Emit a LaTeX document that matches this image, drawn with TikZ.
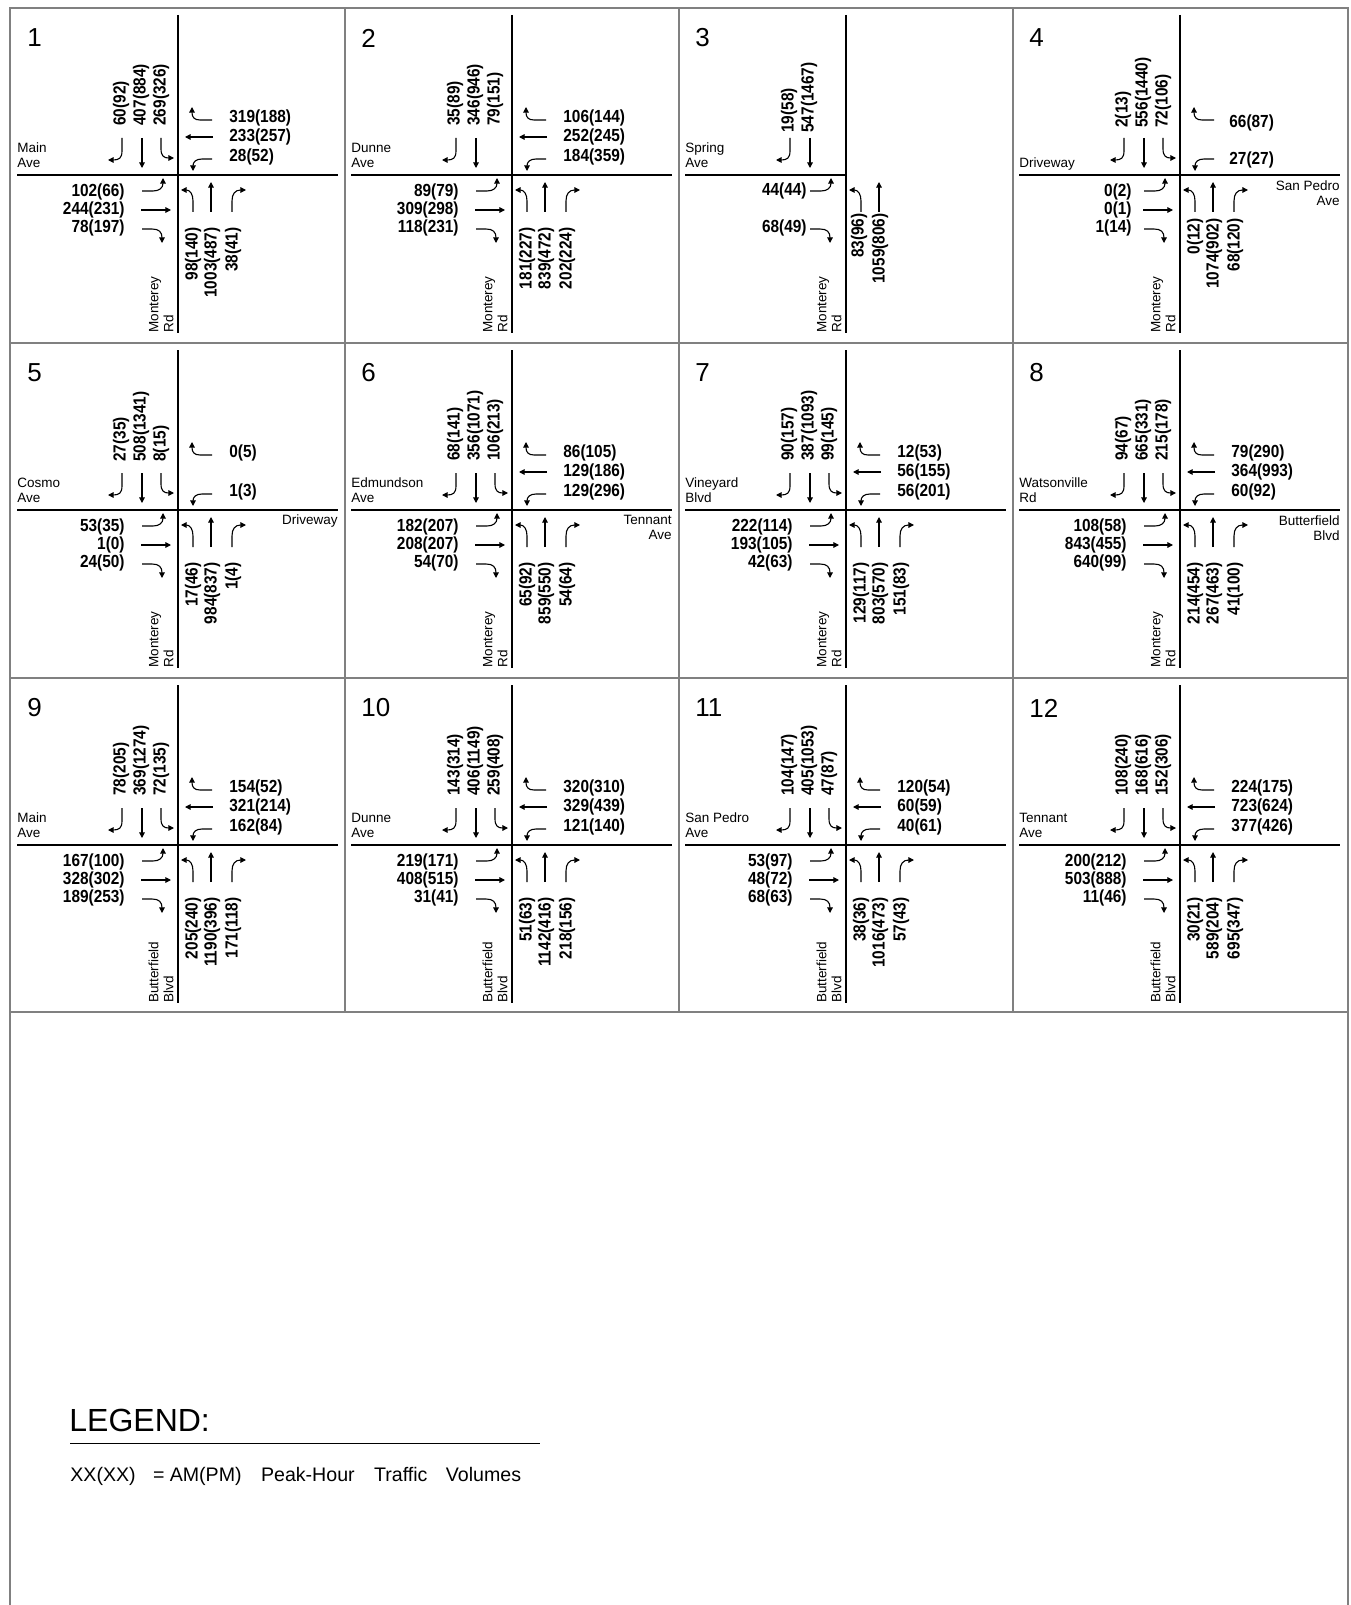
\documentclass[tikz,border=0pt]{standalone}
\usepackage{fontspec}
\setmainfont{Liberation Sans}
\newfontfamily\volfont[FakeStretch=0.88]{Liberation Sans}
\usetikzlibrary{arrows.meta}

% turning movements round the centre of the current intersection
\newcommand{\sbR}{\draw[move] (-56,-37) -- (-56,-24) .. controls (-56,-17) and (-59,-15) .. (-70,-15);}
\newcommand{\sbT}{\draw[move] (-36,-37) -- (-36,-7);}
\newcommand{\sbL}{\draw[move] (-17,-37) -- (-17,-26) .. controls (-17,-19) and (-14,-17) .. (-4,-17);}
\newcommand{\wbR}{\draw[move] (34,-55) -- (22,-55) .. controls (16,-55) and (14,-58) .. (14,-68);}
\newcommand{\wbT}{\draw[move] (35,-38) -- (7,-38);}
\newcommand{\wbL}{\draw[move] (34,-16) -- (24,-16) .. controls (18,-16) and (15,-13) .. (15,-4);}
\newcommand{\ebL}{\draw[move] (-36,16) -- (-25,16) .. controls (-19,16) and (-15,13) .. (-15,3);}
\newcommand{\ebT}{\draw[move] (-37,35) -- (-7,35);}
\newcommand{\ebR}{\draw[move] (-36,54) -- (-26,54) .. controls (-19,54) and (-16,57) .. (-16,68);}
\newcommand{\nbL}{\draw[move] (15,37) -- (15,26) .. controls (15,19) and (12,15) .. (3,15);}
\newcommand{\nbT}{\draw[move] (33,37) -- (33,7);}
\newcommand{\nbR}{\draw[move] (54,37) -- (54,26) .. controls (54,19) and (57,15) .. (68,15);}

% roads, number and street names
\newcommand{\roads}{\draw[road] (-161,0) -- (160,0); \draw[road] (0,-160) -- (0,158);}
\newcommand{\panelnum}[2]{\node[panel number, anchor=west] (#1no) at (-151,-137) {#2};}
\newcommand{\westname}[2]{\node[street, align=left, anchor=south west] (#1west) at (-161,-7) {#2};}
\newcommand{\eastname}[2]{\node[street, align=right, anchor=north east] (#1east) at (160,5) {#2};}
\newcommand{\southname}[2]{\node[street, align=left, rotate=90, anchor=south west] (#1south) at (-4,158) {#2};}

% AM(PM) volumes
\newcommand{\sbvols}[5][-49]{%
  \node[vol, rotate=90, anchor=west] (#2sbr) at (-57,#1) {#3};
  \node[vol, rotate=90, anchor=west] (#2sbt) at (-37,#1) {#4};
  \node[vol, rotate=90, anchor=west] (#2sbl) at (-17,#1) {#5};}
\newcommand{\wbvols}[4]{%
  \node[vol, anchor=west] (#1wbr) at (51,-57) {#2};
  \node[vol, anchor=west] (#1wbt) at (51,-38) {#3};
  \node[vol, anchor=west] (#1wbl) at (51,-18) {#4};}
\newcommand{\ebvols}[5][-53]{%
  \node[vol, anchor=east] (#2ebl) at (#1,17) {#3};
  \node[vol, anchor=east] (#2ebt) at (#1,35) {#4};
  \node[vol, anchor=east] (#2ebr) at (#1,53) {#5};}
\newcommand{\nbvols}[5][52]{%
  \node[vol, rotate=90, anchor=east] (#2nbl) at (15,#1) {#3};
  \node[vol, rotate=90, anchor=east] (#2nbt) at (34,#1) {#4};
  \node[vol, rotate=90, anchor=east] (#2nbr) at (55,#1) {#5};}

\begin{document}
\begin{tikzpicture}[
    x=0.5pt, y=-0.5pt,
    grid line/.style={draw=black!50, line width=0.7pt},
    road/.style={line width=0.9pt},
    move/.style={line width=0.55pt, -{Triangle[length=2.8pt,width=2.8pt]}},
    vol/.style={inner sep=0pt, font=\volfont\bfseries\fontsize{8.75}{9.5}\selectfont},
    street/.style={inner sep=0pt, font=\fontsize{6.75}{7.5}\selectfont},
    panel number/.style={inner sep=0pt, font=\fontsize{13}{15}\selectfont}
]
\useasboundingbox (0,0) rectangle (1350,1605);

% Frame
\draw[grid line] (10,1605) -- (10,8) -- (1348,8) -- (1348,1605);
\draw[grid line] (345,8) -- (345,1012);
\draw[grid line] (679,8) -- (679,1012);
\draw[grid line] (1013,8) -- (1013,1012);
\draw[grid line] (10,343) -- (1348,343);
\draw[grid line] (10,678) -- (1348,678);
\draw[grid line] (10,1012) -- (1348,1012);

% Intersection 1
\begin{scope}[shift={(178,175)}]
  \roads
  \panelnum{p1}{1}
  \westname{p1}{Main\\Ave}
  \southname{p1}{Monterey\\Rd}
  \sbR \sbT \sbL \wbR \wbT \wbL \ebL \ebT \ebR \nbL \nbT \nbR
  \sbvols{p1}{60(92)}{407(884)}{269(326)}
  \wbvols{p1}{319(188)}{233(257)}{28(52)}
  \ebvols{p1}{102(66)}{244(231)}{78(197)}
  \nbvols{p1}{98(140)}{1003(487)}{38(41)}
\end{scope}

% Intersection 2
\begin{scope}[shift={(512,175)}]
  \roads
  \panelnum{p2}{2}
  \westname{p2}{Dunne\\Ave}
  \southname{p2}{Monterey\\Rd}
  \sbR \sbT \wbR \wbT \wbL \ebL \ebT \ebR \nbL \nbT \nbR
  \sbvols{p2}{35(89)}{346(946)}{79(151)}
  \wbvols{p2}{106(144)}{252(245)}{184(359)}
  \ebvols{p2}{89(79)}{309(298)}{118(231)}
  \nbvols{p2}{181(227)}{839(472)}{202(224)}
\end{scope}

% Intersection 3
\begin{scope}[shift={(846,175)}]
  \draw[road] (-161,0) -- (0,0);
  \draw[road] (0,-160) -- (0,158);
  \panelnum{p3}{3}
  \westname{p3}{Spring\\Ave}
  \southname{p3}{Monterey\\Rd}
  \sbR \sbT \ebL \ebR \nbL \nbT
  \node[vol, rotate=90, anchor=west] (p3sbr) at (-57,-42) {19(58)};
  \node[vol, rotate=90, anchor=west] (p3sbt) at (-37,-42) {547(1467)};
  \node[vol, anchor=east] (p3ebl) at (-39,16) {44(44)};
  \node[vol, anchor=east] (p3ebr) at (-39,53) {68(49)};
  \node[vol, rotate=90, anchor=east] (p3nbl) at (13,38) {83(96)};
  \node[vol, rotate=90, anchor=east] (p3nbt) at (34,38) {1059(806)};
\end{scope}

% Intersection 4
\begin{scope}[shift={(1180,175)}]
  \roads
  \panelnum{p4}{4}
  \node[street, anchor=base west] (p4west) at (-161,-7) {Driveway};
  \eastname{p4}{San Pedro\\Ave}
  \southname{p4}{Monterey\\Rd}
  \sbR \sbT \sbL \wbR \wbL \ebL \ebT \ebR \nbL \nbT \nbR
  \sbvols[-47]{p4}{2(13)}{556(1440)}{72(106)}
  \node[vol, anchor=west] (p4wbr) at (49,-52) {66(87)};
  \node[vol, anchor=west] (p4wbl) at (49,-15) {27(27)};
  \ebvols[-48]{p4}{0(2)}{0(1)}{1(14)}
  \nbvols[43]{p4}{0(12)}{1074(902)}{68(120)}
\end{scope}

% Intersection 5
\begin{scope}[shift={(178,510)}]
  \roads
  \panelnum{p5}{5}
  \westname{p5}{Cosmo\\Ave}
  \node[street, anchor=base east] (p5east) at (160,14) {Driveway};
  \southname{p5}{Monterey\\Rd}
  \sbR \sbT \sbL \wbR \wbL \ebL \ebT \ebR \nbL \nbT \nbR
  \sbvols[-48]{p5}{27(35)}{508(1341)}{8(15)}
  \node[vol, anchor=west] (p5wbr) at (51,-57) {0(5)};
  \node[vol, anchor=west] (p5wbl) at (51,-18) {1(3)};
  \ebvols{p5}{53(35)}{1(0)}{24(50)}
  \nbvols{p5}{17(46)}{984(837)}{1(4)}
\end{scope}

% Intersection 6
\begin{scope}[shift={(512,510)}]
  \roads
  \panelnum{p6}{6}
  \westname{p6}{Edmundson\\Ave}
  \eastname{p6}{Tennant\\Ave}
  \southname{p6}{Monterey\\Rd}
  \sbR \sbT \sbL \wbR \wbT \wbL \ebL \ebT \ebR \nbL \nbT \nbR
  \sbvols{p6}{68(141)}{356(1071)}{106(213)}
  \wbvols{p6}{86(105)}{129(186)}{129(296)}
  \ebvols{p6}{182(207)}{208(207)}{54(70)}
  \nbvols{p6}{65(92)}{859(550)}{54(64)}
\end{scope}

% Intersection 7
\begin{scope}[shift={(846,510)}]
  \roads
  \panelnum{p7}{7}
  \westname{p7}{Vineyard\\Blvd}
  \southname{p7}{Monterey\\Rd}
  \sbR \sbT \sbL \wbR \wbT \wbL \ebL \ebT \ebR \nbL \nbT \nbR
  \sbvols{p7}{90(157)}{387(1093)}{99(145)}
  \wbvols{p7}{12(53)}{56(155)}{56(201)}
  \ebvols{p7}{222(114)}{193(105)}{42(63)}
  \nbvols{p7}{129(117)}{803(570)}{151(83)}
\end{scope}

% Intersection 8
\begin{scope}[shift={(1180,510)}]
  \roads
  \panelnum{p8}{8}
  \westname{p8}{Watsonville\\Rd}
  \eastname{p8}{Butterfield\\Blvd}
  \southname{p8}{Monterey\\Rd}
  \sbR \sbT \sbL \wbR \wbT \wbL \ebL \ebT \ebR \nbL \nbT \nbR
  \sbvols{p8}{94(67)}{665(331)}{215(178)}
  \wbvols{p8}{79(290)}{364(993)}{60(92)}
  \ebvols{p8}{108(58)}{843(455)}{640(99)}
  \nbvols{p8}{214(454)}{267(463)}{41(100)}
\end{scope}

% Intersection 9
\begin{scope}[shift={(178,845)}]
  \roads
  \panelnum{p9}{9}
  \westname{p9}{Main\\Ave}
  \southname{p9}{Butterfield\\Blvd}
  \sbR \sbT \sbL \wbR \wbT \wbL \ebL \ebT \ebR \nbL \nbT \nbR
  \sbvols{p9}{78(205)}{369(1274)}{72(135)}
  \wbvols{p9}{154(52)}{321(214)}{162(84)}
  \ebvols{p9}{167(100)}{328(302)}{189(253)}
  \nbvols{p9}{205(240)}{1190(396)}{171(118)}
\end{scope}

% Intersection 10
\begin{scope}[shift={(512,845)}]
  \roads
  \panelnum{p10}{10}
  \westname{p10}{Dunne\\Ave}
  \southname{p10}{Butterfield\\Blvd}
  \sbR \sbT \sbL \wbR \wbT \wbL \ebL \ebT \ebR \nbL \nbT \nbR
  \sbvols{p10}{143(314)}{406(1149)}{259(408)}
  \wbvols{p10}{320(310)}{329(439)}{121(140)}
  \ebvols{p10}{219(171)}{408(515)}{31(41)}
  \nbvols{p10}{51(63)}{1142(416)}{218(156)}
\end{scope}

% Intersection 11
\begin{scope}[shift={(846,845)}]
  \roads
  \panelnum{p11}{11}
  \westname{p11}{San Pedro\\Ave}
  \southname{p11}{Butterfield\\Blvd}
  \sbR \sbT \sbL \wbR \wbT \wbL \ebL \ebT \ebR \nbL \nbT \nbR
  \sbvols{p11}{104(147)}{405(1053)}{47(87)}
  \wbvols{p11}{120(54)}{60(59)}{40(61)}
  \ebvols{p11}{53(97)}{48(72)}{68(63)}
  \nbvols{p11}{38(36)}{1016(473)}{57(43)}
\end{scope}

% Intersection 12
\begin{scope}[shift={(1180,845)}]
  \roads
  \panelnum{p12}{12}
  \westname{p12}{Tennant\\Ave}
  \southname{p12}{Butterfield\\Blvd}
  \sbR \sbT \sbL \wbR \wbT \wbL \ebL \ebT \ebR \nbL \nbT \nbR
  \sbvols{p12}{108(240)}{168(616)}{152(306)}
  \wbvols{p12}{224(175)}{723(624)}{377(426)}
  \ebvols{p12}{200(212)}{503(888)}{11(46)}
  \nbvols{p12}{30(21)}{589(204)}{695(347)}
\end{scope}

% Legend
\node[anchor=base west, inner sep=0pt, font=\fontsize{16}{18}\selectfont] (legendtitle) at (69,1431) {LEGEND:};
\draw[line width=0.5pt] (70,1443) -- (540,1443);
\node[anchor=base west, inner sep=0pt, font=\fontsize{9.8}{11}\selectfont] (legendtext) at (70,1481)
  {XX(XX)\hspace{8.7pt}=\hspace{2.6pt}AM(PM)\hspace{9.7pt}Peak-Hour\hspace{9.7pt}Traffic\hspace{9.2pt}Volumes};

\end{tikzpicture}
\end{document}
